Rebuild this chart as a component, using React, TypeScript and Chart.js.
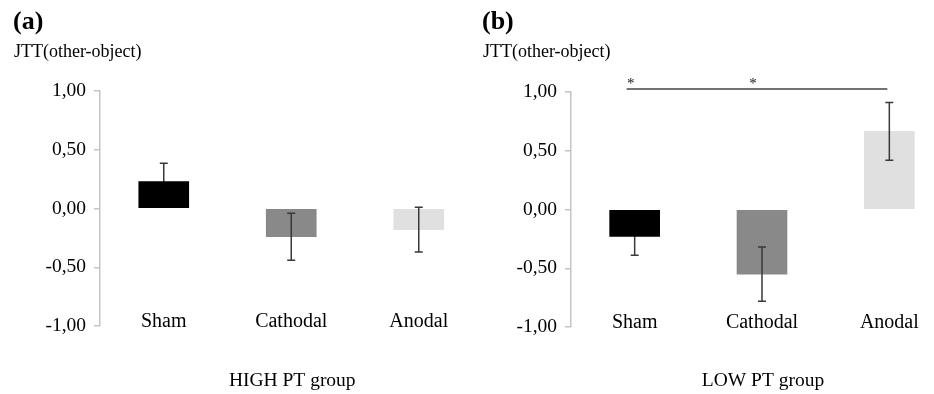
import React, { useEffect, useRef } from "react";
import { Chart, registerables } from "chart.js";

Chart.register(...registerables);

const categories = ["Sham", "Cathodal", "Anodal"];
const barColors = ["#000000", "#898989", "#e0e0e0"];
const yTicks = [-1, -0.5, 0, 0.5, 1];

const highMeans = [0.23, -0.24, -0.18];
const highErrors = [0.155, 0.2, 0.19];

const lowMeans = [-0.23, -0.55, 0.665];
const lowErrors = [0.16, 0.23, 0.245];

// significance bracket (panel b): spans Sham → Anodal
const sigLevel = 1.025;
const sigStarLevel = 1.1;

const SERIF = '"Liberation Serif", "Times New Roman", Times, serif';

type PanelProps = {
  letter: string;
  group: string;
  means: number[];
  errors: number[];
  axisLeft: number;
  rightPad: number;
  top: number;
  bottom: number;
  sig: boolean;
};

function Panel({ letter, group, means, errors, axisLeft, rightPad, top, bottom, sig }: PanelProps) {
  const ref = useRef<HTMLCanvasElement | null>(null);

  useEffect(() => {
    if (!ref.current) return;
    const overlay = {
      id: "overlay",
      afterDatasetsDraw(chart: any) {
        const ctx = chart.ctx;
        const x = chart.scales.x;
        const y = chart.scales.y;
        // error bars
        ctx.save();
        ctx.globalCompositeOperation = "darken";
        ctx.strokeStyle = "#383838";
        ctx.lineWidth = 1.5;
        means.forEach((m, i) => {
          const cx = x.getPixelForValue(i);
          const y1 = y.getPixelForValue(m + errors[i]);
          const y2 = y.getPixelForValue(m - errors[i]);
          ctx.beginPath();
          ctx.moveTo(cx, y1);
          ctx.lineTo(cx, y2);
          ctx.moveTo(cx - 4, y1);
          ctx.lineTo(cx + 4, y1);
          ctx.moveTo(cx - 4, y2);
          ctx.lineTo(cx + 4, y2);
          ctx.stroke();
        });
        ctx.restore();

        // significance line
        if (sig) {
          ctx.save();
          ctx.strokeStyle = "#444";
          ctx.lineWidth = 1.5;
          const ly = y.getPixelForValue(sigLevel);
          const x0 = x.getPixelForValue(0) - 8;
          const x1 = x.getPixelForValue(2) - 2;
          ctx.beginPath();
          ctx.moveTo(x0, ly);
          ctx.lineTo(x1, ly);
          ctx.stroke();
          ctx.fillStyle = "#111";
          ctx.font = `15px ${SERIF}`;
          ctx.textAlign = "center";
          ctx.textBaseline = "middle";
          const sy = y.getPixelForValue(sigStarLevel) + 4;
          ctx.fillText("*", x0 + 4, sy);
          ctx.fillText("*", x.getPixelForValue(1) - 9, sy);
          ctx.restore();
        }

        // category labels
        ctx.save();
        ctx.fillStyle = "#000";
        ctx.font = `20px ${SERIF}`;
        ctx.textAlign = "center";
        ctx.textBaseline = "middle";
        const labY = y.getPixelForValue(-0.95) + 2;
        categories.forEach((c, i) => {
          ctx.fillText(c, x.getPixelForValue(i), labY);
        });
        // group title
        ctx.font = `19.5px ${SERIF}`;
        ctx.fillText(group, (chart.chartArea.left + chart.chartArea.right) / 2 + 1, 381);
        // panel letter & y title
        ctx.textAlign = "left";
        ctx.font = `bold 26px ${SERIF}`;
        ctx.fillText(letter, 13, 22);
        ctx.font = `18px ${SERIF}`;
        ctx.fillText("JTT(other-object)", 14, 52);
        ctx.restore();
      },
    };

    const chart = new Chart(ref.current, {
      type: "bar",
      data: {
        labels: categories,
        datasets: [
          {
            data: means,
            backgroundColor: barColors,
            borderWidth: 0,
            barThickness: 50,
          },
        ],
      },
      options: {
        animation: false,
        responsive: false,
        maintainAspectRatio: false,
        layout: { padding: { top, bottom: 394 - bottom, left: 0, right: rightPad } },
        plugins: { legend: { display: false }, tooltip: { enabled: false }, title: { display: false } },
        scales: {
          x: { display: false, offset: true },
          y: {
            min: -1,
            max: 1,
            afterFit: (s: any) => {
              s.width = axisLeft;
            },
            afterBuildTicks: (s: any) => {
              s.ticks = yTicks.map((v) => ({ value: v }));
            },
            grid: { drawOnChartArea: false, tickLength: 6, color: "#c4c4c4", lineWidth: 1.5 },
            border: { display: true, color: "#c4c4c4", width: 1.5 },
            ticks: {
              color: "#000",
              padding: 8,
              font: { family: SERIF, size: 19.5 },
              callback: (v: any) => Number(v).toFixed(2).replace(".", ","),
            },
          },
        },
      },
      plugins: [overlay],
    });
    return () => chart.destroy();
  }, []);

  return <canvas ref={ref} width={490} height={394} style={{ display: "block", width: 490, height: 394 }} />;
}

export default function App() {
  return (
    <div
      style={{
        position: "fixed",
        left: 0,
        top: 0,
        width: 934,
        height: 394,
        overflow: "hidden",
        background: "#fff",
      }}
    >
      <div style={{ position: "absolute", left: 0, top: 0 }}>
        <Panel
          letter="(a)"
          group="HIGH PT group"
          means={highMeans}
          errors={highErrors}
          axisLeft={100}
          rightPad={7.5}
          top={91}
          bottom={326}
          sig={false}
        />
      </div>
      <div style={{ position: "absolute", left: 469, top: 0 }}>
        <Panel
          letter="(b)"
          group="LOW PT group"
          means={lowMeans}
          errors={lowErrors}
          axisLeft={102}
          rightPad={6}
          top={92}
          bottom={327}
          sig={true}
        />
      </div>
    </div>
  );
}
